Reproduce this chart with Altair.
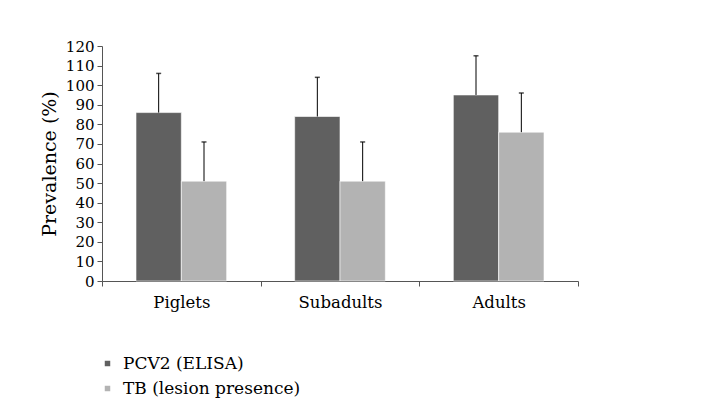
import altair as alt
import pandas as pd

groups = ["Piglets", "Subadults", "Adults"]
series = ["PCV2 (ELISA)", "TB (lesion presence)"]
pcv2 = [86, 84, 95]
pcv2_err = [20, 20, 20]
tb = [51, 51, 76]
tb_err = [20, 20, 20]
colors = ["#606060", "#b3b3b3"]

rows = []
for i, g in enumerate(groups):
    rows.append({"group": g, "series": series[0], "value": pcv2[i], "top": pcv2[i] + pcv2_err[i]})
    rows.append({"group": g, "series": series[1], "value": tb[i], "top": tb[i] + tb_err[i]})
df = pd.DataFrame(rows)

FONT = "DejaVu Serif"

x = alt.X("group:N", sort=groups, title=None,
          scale=alt.Scale(paddingInner=0, paddingOuter=0),
          axis=alt.Axis(labelAngle=0, labelFontSize=16.5, labelFont=FONT, labelColor="#000",
                        labelPadding=8, domainColor="#555", tickColor="#555", tickSize=5,
                        tickBand="extent"))
xo = alt.XOffset("series:N", sort=series,
                 scale=alt.Scale(paddingInner=0, paddingOuter=0.75))

yaxis = alt.Axis(values=list(range(0, 121, 10)), labelFontSize=15, labelFont=FONT,
                 labelColor="#000", titleFont=FONT, titleFontSize=19,
                 titleFontWeight="normal", titleColor="#000", titlePadding=6,
                 domainColor="#555", tickColor="#555", tickSize=5, grid=False,
                 labelPadding=3, labelOverlap=False)
yscale = alt.Scale(domain=[0, 120], nice=False)

bars = alt.Chart(df).mark_bar(stroke="white", strokeWidth=0.6).encode(
    x=x, xOffset=xo,
    y=alt.Y("value:Q", title="Prevalence (%)", scale=yscale, axis=yaxis),
    color=alt.Color("series:N", sort=series,
                    scale=alt.Scale(domain=series, range=colors),
                    legend=alt.Legend(title=None, orient="none", legendX=-3, legendY=309,
                                      padding=0, labelLimit=400,
                                      symbolType="square", symbolSize=30, symbolStrokeWidth=0,
                                      labelFont=FONT, labelFontSize=17, labelColor="#000",
                                      rowPadding=7, labelOffset=7)),
)

err = alt.Chart(df).mark_rule(color="#000", strokeWidth=1).encode(
    x=alt.X("group:N", sort=groups), xOffset=xo,
    y=alt.Y("value:Q", title="Prevalence (%)", scale=yscale, axis=yaxis), y2="top:Q")

caps = alt.Chart(df).mark_tick(color="#000", orient="horizontal", size=5, thickness=1.5).encode(
    x=alt.X("group:N", sort=groups), xOffset=xo,
    y=alt.Y("top:Q", title="Prevalence (%)", scale=yscale, axis=yaxis))

chart = alt.layer(bars, err, caps).properties(
    width=476, height=235,
    autosize=alt.AutoSizeParams(type="none"),
    padding={"left": 94, "top": 38, "right": 40, "bottom": 128},
).configure(font=FONT).configure_view(stroke=None)

chart.save("out.html", embed_options={"renderer": "svg", "actions": False})
